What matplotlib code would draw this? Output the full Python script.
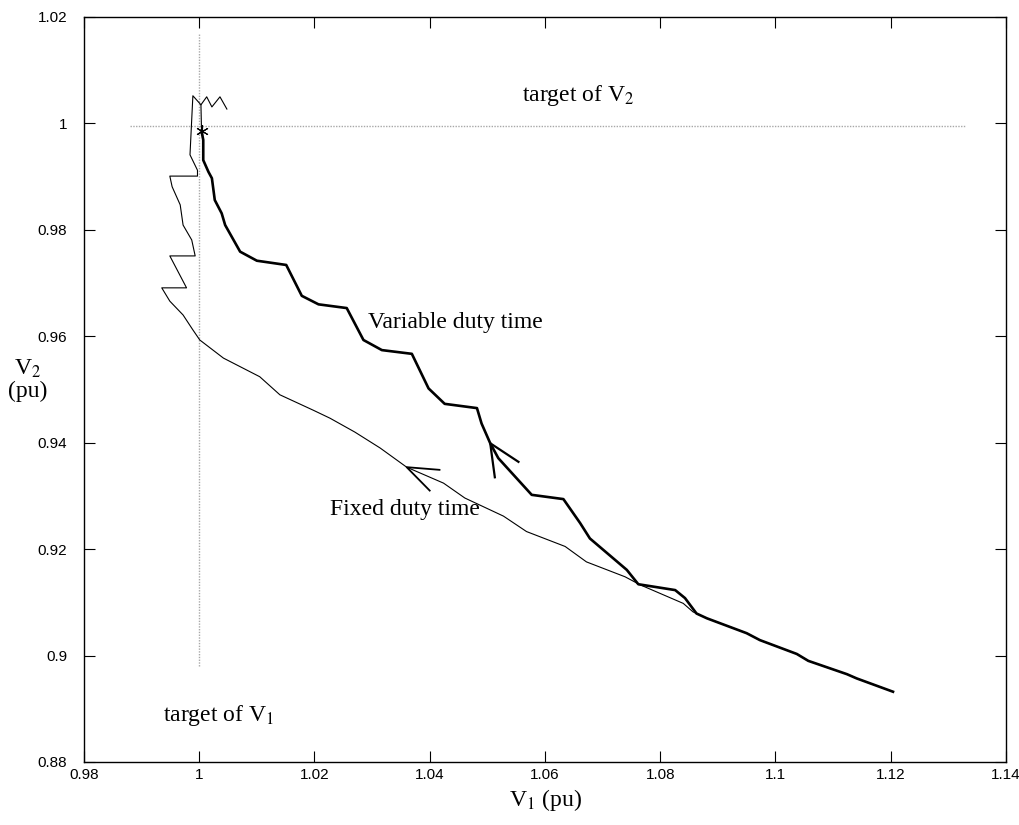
import matplotlib
matplotlib.use('Agg')
import matplotlib.pyplot as plt

plt.rcParams['mathtext.fontset'] = 'stix'

# variable duty time trajectory (thick)
var_v1 = [1.1204, 1.1141, 1.1124, 1.1057, 1.1037, 1.0973, 1.0950, 1.0881, 1.0863, 1.0843,
          1.0826, 1.0762, 1.0742, 1.0678, 1.0661, 1.0632, 1.0577, 1.0519, 1.0505, 1.0490,
          1.0482, 1.0426, 1.0398, 1.0369, 1.0317, 1.0285, 1.0256, 1.0207, 1.0178, 1.0151,
          1.0100, 1.0071, 1.0045, 1.0039, 1.0027, 1.0022, 1.0016, 1.0007, 1.0007, 1.0004]
var_v2 = [0.8932, 0.8957, 0.8965, 0.8990, 0.9003, 0.9029, 0.9042, 0.9070, 0.9079, 0.9108,
          0.9123, 0.9134, 0.9161, 0.9220, 0.9249, 0.9294, 0.9302, 0.9371, 0.9399, 0.9436,
          0.9465, 0.9473, 0.9502, 0.9567, 0.9574, 0.9593, 0.9653, 0.9660, 0.9676, 0.9734,
          0.9742, 0.9759, 0.9809, 0.9831, 0.9856, 0.9897, 0.9909, 0.9931, 0.9969, 0.9986]

# fixed duty time trajectory (thin)
fix_v1 = [1.1204, 1.1141, 1.1124, 1.1057, 1.1037, 1.0973, 1.0950, 1.0881, 1.0857, 1.0840,
          1.0765, 1.0739, 1.0672, 1.0635, 1.0568, 1.0528, 1.0461, 1.0424, 1.0360, 1.0314,
          1.0270, 1.0227, 1.0198, 1.0140, 1.0105, 1.0042, 1.0001, 0.9989, 0.9972, 0.9949,
          0.9935, 0.9978, 0.9949, 0.9993, 0.9987, 0.9972, 0.9967, 0.9953, 0.9949, 0.9997,
          0.9997, 0.9984, 0.9989, 1.0003, 1.0013, 1.0022, 1.0036, 1.0048]
fix_v2 = [0.8932, 0.8957, 0.8965, 0.8990, 0.9003, 0.9029, 0.9042, 0.9070, 0.9082, 0.9098,
          0.9133, 0.9148, 0.9176, 0.9205, 0.9233, 0.9262, 0.9296, 0.9324, 0.9354, 0.9390,
          0.9420, 0.9446, 0.9461, 0.9490, 0.9524, 0.9559, 0.9593, 0.9612, 0.9640, 0.9666,
          0.9691, 0.9691, 0.9751, 0.9751, 0.9781, 0.9809, 0.9847, 0.9881, 0.9901, 0.9901,
          0.9912, 0.9941, 1.0052, 1.0035, 1.0050, 1.0031, 1.0050, 1.0027]

# short link between end point and overshoot
link_v1 = [1.0004, 1.0003]
link_v2 = [0.9986, 1.0035]

# arrow heads (barb, tip, barb)
arr_var_v1 = [1.0554, 1.0505, 1.0513]
arr_var_v2 = [0.9364, 0.9399, 0.9335]
arr_fix_v1 = [1.0417, 1.0360, 1.0400]
arr_fix_v2 = [0.9349, 0.9354, 0.9310]

# targets
target_v1 = 1.0
target_v2 = 0.9995
end_pt = (1.0004, 0.9986)

fig = plt.figure(figsize=(10.19, 8.25), dpi=100)
ax = fig.add_axes([0.0824, 0.0764, 0.9048, 0.903])

ax.plot([0.988, 1.133], [target_v2, target_v2], color='#a8a8a8', lw=1.0, ls=(0, (1, 1)))
ax.plot([target_v1, target_v1], [0.898, 1.017], color='#a8a8a8', lw=1.0, ls=(0, (1, 1)))

ax.plot(fix_v1, fix_v2, color='black', lw=0.8)
ax.plot(link_v1, link_v2, color='black', lw=0.8)
ax.plot(var_v1, var_v2, color='black', lw=1.9)
ax.plot(arr_var_v1, arr_var_v2, color='black', lw=1.6)
ax.plot(arr_fix_v1, arr_fix_v2, color='black', lw=1.3)
ax.plot([end_pt[0]], [end_pt[1]], marker=(6, 2, 0), color='black', ms=9, mew=0.8)

serif = ['Liberation Serif', 'DejaVu Serif']
ax.text(1.056, 1.0052, 'target of V$_2$', fontsize=17, family=serif, va='center')
ax.text(0.9937, 0.8888, 'target of V$_1$', fontsize=17, family=serif, va='center')
ax.text(1.0293, 0.9625, 'Variable duty time', fontsize=17, family=serif, va='center')
ax.text(1.0227, 0.9274, 'Fixed duty time', fontsize=17, family=serif, va='center')

ax.set_xlim(0.98, 1.14)
ax.set_ylim(0.88, 1.02)
ax.set_xticks([0.98, 1.0, 1.02, 1.04, 1.06, 1.08, 1.1, 1.12, 1.14])
ax.set_xticklabels(['0.98', '1', '1.02', '1.04', '1.06', '1.08', '1.1', '1.12', '1.14'],
                   family=['Liberation Sans'], fontsize=11)
ax.set_yticks([0.88, 0.9, 0.92, 0.94, 0.96, 0.98, 1.0, 1.02])
ax.set_yticklabels(['0.88', '0.9', '0.92', '0.94', '0.96', '0.98', '1', '1.02'],
                   family=['Liberation Sans'], fontsize=11)
ax.tick_params(direction='in', length=8, width=0.8, top=True, right=True)
ax.tick_params(axis='x', pad=4)
ax.tick_params(axis='y', pad=12)
for s in ax.spines.values():
    s.set_linewidth(1.0)

fig.text(0.535, 0.030, 'V$_1$ (pu)', fontsize=17, family=serif, ha='center', va='center')
fig.text(0.0275, 0.540, 'V$_2$\n(pu)', fontsize=17, family=serif, ha='center', va='center',
         linespacing=1.05)

fig.savefig('out.png', dpi=100)
